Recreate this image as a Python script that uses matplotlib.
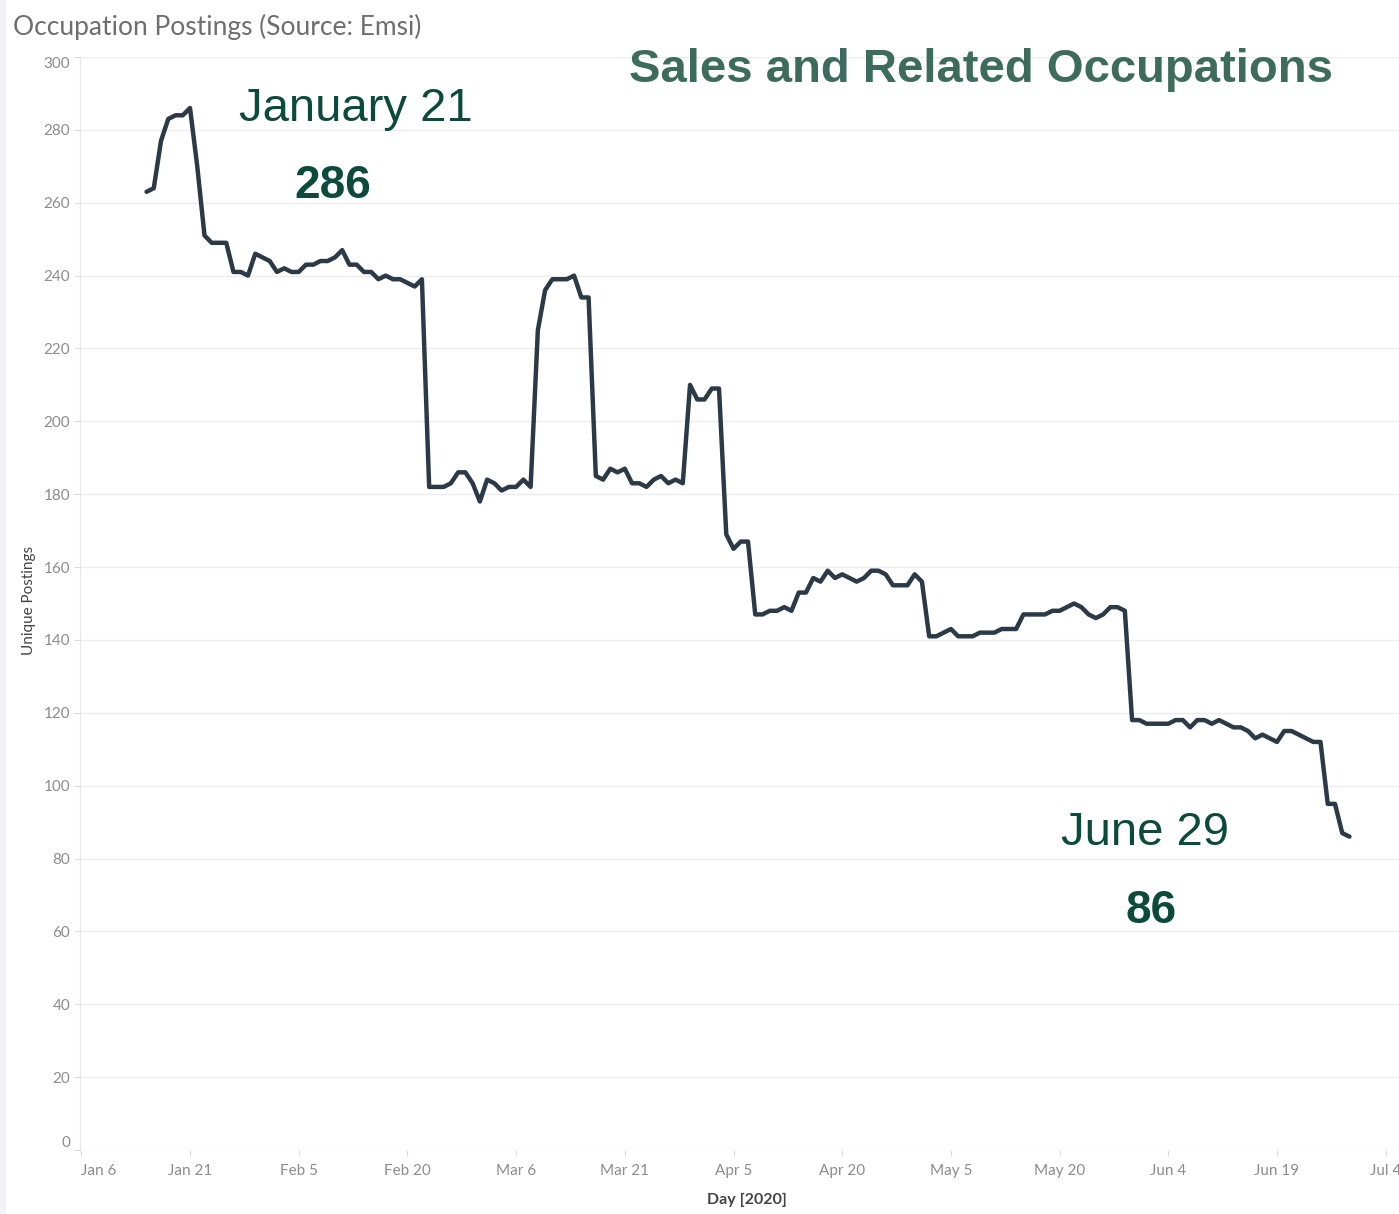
import matplotlib
matplotlib.use('Agg')
import matplotlib.pyplot as plt
from matplotlib.patches import Rectangle
import pandas as pd

# daily unique postings, Jan 15 - Jun 29 2020
start_date = '2020-01-15'
postings = [
    263, 264, 277, 283, 284, 284, 286, 270, 251, 249, 249, 249, 241, 241, 240, 246, 245,   # Jan 15-31
    244, 241, 242, 241, 241, 243, 243, 244, 244, 245, 247, 243, 243, 241, 241, 239, 240,   # Feb 1-17
    239, 239, 238, 237, 239, 182, 182, 182, 183, 186, 186, 183,                            # Feb 18-29
    178, 184, 183, 181, 182, 182, 184, 182, 225, 236, 239, 239, 239, 240, 234, 234,        # Mar 1-16
    185, 184, 187, 186, 187, 183, 183, 182, 184, 185, 183, 184, 183, 210, 206,             # Mar 17-31
    206, 209, 209, 169, 165, 167, 167, 147, 147, 148, 148, 149, 148, 153, 153,             # Apr 1-15
    157, 156, 159, 157, 158, 157, 156, 157, 159, 159, 158, 155, 155, 155, 158,             # Apr 16-30
    156, 141, 141, 142, 143, 141, 141, 141, 142, 142, 142, 143, 143, 143, 147, 147,        # May 1-16
    147, 147, 148, 148, 149, 150, 149, 147, 146, 147, 149, 149, 148, 118, 118,             # May 17-31
    117, 117, 117, 117, 118, 118, 116, 118, 118, 117, 118, 117, 116, 116, 115,             # Jun 1-15
    113, 114, 113, 112, 115, 115, 114, 113, 112, 112, 95, 95, 87, 86,                      # Jun 16-29
]
days = pd.date_range(start_date, periods=len(postings), freq='D')

tick_dates = pd.date_range('2020-01-06', periods=13, freq='15D')
tick_labels = [d.strftime('%b ') + str(d.day) for d in tick_dates]
y_ticks = list(range(0, 301, 20))

title = 'Occupation Postings (Source: Emsi)'
headline = 'Sales and Related Occupations'
peak_label, peak_value = 'January 21', '286'
last_label, last_value = 'June 29', '86'

W, H = 1399, 1214
fig = plt.figure(figsize=(W / 100, H / 100), dpi=100)
fig.patch.set_facecolor('white')
fig.patches.append(Rectangle((0, 0), 6 / W, 1, transform=fig.transFigure,
                             facecolor='#f2f2f5', edgecolor='none', zorder=0))

ax = fig.add_axes([80 / W, 1 - 1150 / H, 1 - 80 / W, (1150 - 57) / H])
ax.plot(days, postings, color='#2b3a46', linewidth=3.2, solid_joinstyle='round',
        solid_capstyle='round', zorder=3)

ax.set_ylim(0, 300)
ax.set_xlim(pd.Timestamp('2020-01-05 19:40'), pd.Timestamp('2020-07-05 20:00'))
ax.set_yticks(y_ticks)
ax.set_xticks(tick_dates)
ax.set_xticklabels(tick_labels)
ax.grid(axis='y', color='#ececec', linewidth=1)
ax.grid(axis='x', visible=False)
ax.set_axisbelow(True)
for side in ['top', 'right', 'bottom']:
    ax.spines[side].set_visible(False)
ax.spines['left'].set_color('#e6e6e6')
ax.tick_params(axis='both', colors='#dcdcdc', labelcolor='#8c8c8c', labelsize=11, length=4, width=0.8)
ax.tick_params(axis='y', pad=3)
ax.tick_params(axis='x', pad=6)
for lab in ax.get_yticklabels() + ax.get_xticklabels():
    lab.set_fontfamily('Lato')

# first / last labels are nudged inside the axis, as in the source
ylabs = ax.get_yticklabels()
ylabs[-1].set_verticalalignment('top')
ylabs[0].set_verticalalignment('bottom')
ax.get_xticklabels()[0].set_horizontalalignment('left')

ax.set_xlabel('Day [2020]', fontsize=11.5, color='#444444', family='Lato', fontweight='bold', va='center')
ax.xaxis.set_label_coords((747 - 80) / 1319, (1150 - 1200) / 1093)
ax.set_ylabel('Unique Postings', fontsize=11, color='#444444', family='Lato', va='center')
ax.yaxis.set_label_coords((29 - 80) / 1319, (1150 - 600) / 1093)

def fx(px):
    return px / W

def fy(py):
    return 1 - py / H

fig.text(fx(13), fy(27), title, fontsize=19, color='#6e6e6e', family='Lato',
         va='center', ha='left')
fig.text(fx(981), fy(70), headline, fontsize=34, color='#3d6b5c', family='Liberation Sans',
         fontweight='bold', va='center', ha='center')
ann_color = '#0c4b3b'
fig.text(fx(356), fy(109), peak_label, fontsize=34, color=ann_color, family='Liberation Sans', va='center', ha='center')
fig.text(fx(333), fy(186), peak_value, fontsize=33, color=ann_color, family='Liberation Sans',
         fontweight='bold', va='center', ha='center')
fig.text(fx(1145), fy(833), last_label, fontsize=34, color=ann_color, family='Liberation Sans', va='center', ha='center')
fig.text(fx(1151), fy(911), last_value, fontsize=33, color=ann_color, family='Liberation Sans',
         fontweight='bold', va='center', ha='center')

fig.savefig('out.png', dpi=100)
